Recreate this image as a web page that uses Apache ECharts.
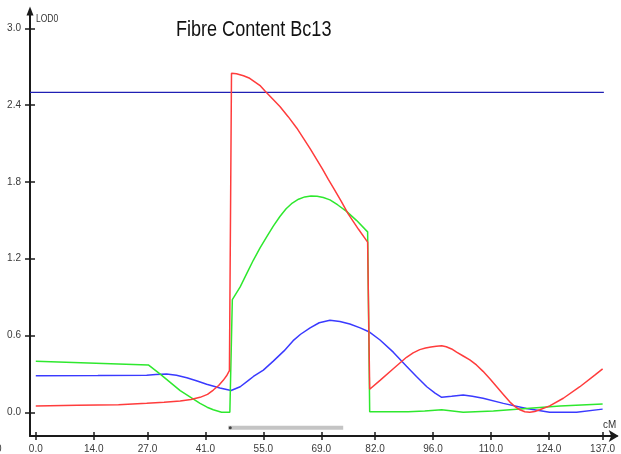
<!DOCTYPE html>
<html>
<head>
<meta charset="utf-8">
<script src="https://cdn.jsdelivr.net/npm/echarts@6/dist/echarts.min.js"></script>
<style>
  html, body { margin: 0; padding: 0; background: #ffffff; }
  #chart { width: 621px; height: 454px; }
</style>
</head>
<body>
<div id="chart"></div>
<script>
// LOD profiles along the linkage group, as [position in cM, LOD]
const redProfile = [
  [0, 0.05], [10, 0.055], [20, 0.06], [26.8, 0.07], [31, 0.078], [34.9, 0.088],
  [37.5, 0.1], [39.7, 0.117], [41.5, 0.14], [42.9, 0.174], [44.2, 0.21],
  [45.3, 0.25], [46.2, 0.29], [46.8, 0.325], [47.3, 2.65], [48.5, 2.645],
  [50.2, 2.63], [51.7, 2.61], [53, 2.58], [54.3, 2.55], [55.4, 2.51],
  [57.2, 2.45], [59, 2.39], [61, 2.31], [63.1, 2.22], [64.7, 2.14],
  [66.3, 2.06], [67.8, 1.98], [69.3, 1.9], [70.7, 1.82], [72, 1.75],
  [73.8, 1.65], [75.5, 1.55], [78, 1.43], [80.2, 1.33], [80.7, 0.18],
  [83.2, 0.25], [86.4, 0.34], [89.6, 0.43], [91.2, 0.465], [92.8, 0.49],
  [94.2, 0.502], [95.5, 0.51], [96.8, 0.517], [98.1, 0.52], [99.2, 0.512],
  [100.5, 0.495], [101.7, 0.47], [103.3, 0.44], [104.9, 0.41], [106.5, 0.37],
  [108.1, 0.32], [109.8, 0.26], [111.4, 0.2], [113, 0.14], [114.6, 0.08],
  [116, 0.04], [117, 0.02], [118.2, 0.005], [119.4, 0.0], [120.6, 0.006],
  [121.8, 0.02], [124.2, 0.05], [127.5, 0.11], [131.5, 0.2], [135.1, 0.29],
  [137, 0.34]
];
const greenProfile = [
  [0, 0.4], [27.2, 0.37], [30, 0.3], [34.9, 0.17], [39.7, 0.07], [41.4, 0.04],
  [42.9, 0.02], [44.9, 0.0], [46.9, 0.0], [47.5, 0.88], [49.4, 0.98],
  [51, 1.085], [52.6, 1.19], [54.2, 1.285], [55.8, 1.37], [57.4, 1.455],
  [59, 1.53], [60.5, 1.59], [62, 1.635], [63.5, 1.665], [65, 1.683],
  [66.5, 1.69], [68, 1.688], [69.5, 1.678], [71.1, 1.66], [73, 1.62],
  [75.1, 1.57], [77.5, 1.5], [80.2, 1.41], [80.7, 0.005], [85, 0.005],
  [90, 0.005], [94, 0.01], [98.1, 0.02], [103.3, 0.0], [110.6, 0.01],
  [118.6, 0.03], [126.7, 0.05], [137, 0.065]
];
const blueProfile = [
  [0, 0.286], [15, 0.288], [26.8, 0.29], [29, 0.295], [31.6, 0.3], [34, 0.29],
  [36.5, 0.27], [39, 0.245], [41.3, 0.22], [44.5, 0.19], [47.2, 0.17],
  [49.4, 0.2], [51.4, 0.25], [52.6, 0.28], [55, 0.33], [57.4, 0.4],
  [60, 0.48], [62.2, 0.56], [64, 0.61], [66.3, 0.66], [68.5, 0.7],
  [71.1, 0.72], [73.5, 0.71], [75.9, 0.69], [78.4, 0.66], [80.5, 0.63],
  [83.2, 0.565], [86.4, 0.47], [89.6, 0.36], [92, 0.28], [94.5, 0.2],
  [96.5, 0.15], [98.1, 0.117], [100.5, 0.125], [103.3, 0.135], [105.5, 0.125],
  [108.1, 0.11], [113, 0.07], [118.6, 0.03], [124.2, 0.0], [130.7, 0.0],
  [137, 0.025]
];
// significance threshold and support interval
const thresholdLine = [[-1.4, 2.5], [137.3, 2.5]];
const supportInterval = [[46.5, -0.12], [74.3, -0.12]];
const intervalMarker = [[47.0, -0.12]];

// axis ticks
const cmTicks = [0, 14, 27, 41, 55, 69, 82, 96, 110, 124, 137];
const lodTicks = [0, 0.6, 1.2, 1.8, 2.4, 3.0];

const FONT = "'Liberation Sans', Arial, sans-serif";
const AXIS_COLOR = '#1a1a1a';
const LABEL_COLOR = '#3a3a3a';

const xRange = { min: -1.4, max: 140.4 };
const yRange = { min: -0.185, max: 3.12 };

const chart = echarts.init(document.getElementById('chart'), null, { renderer: 'canvas' });

function lineSeries(data, color, width) {
  return {
    type: 'line',
    data: data,
    xAxisIndex: 0,
    yAxisIndex: 0,
    showSymbol: false,
    symbol: 'none',
    smooth: false,
    silent: true,
    animation: false,
    lineStyle: { color: color, width: width },
    z: 3
  };
}

// second axis that only draws the inner half of each tick
function tickAxis(range, ticks, len, position) {
  return {
    type: 'value', min: range.min, max: range.max, position: position,
    splitLine: { show: false },
    axisLine: { show: false, onZero: false },
    axisTick: {
      show: true, customValues: ticks, length: len, inside: true,
      lineStyle: { color: AXIS_COLOR, width: 1.5 }
    },
    axisLabel: { show: false }
  };
}

chart.setOption({
  animation: false,
  backgroundColor: '#ffffff',
  grid: { left: 30, right: 4.3, top: 13, bottom: 18, containLabel: false },
  xAxis: [
    {
      type: 'value', min: xRange.min, max: xRange.max, position: 'bottom',
      splitLine: { show: false },
      axisLine: {
        show: true, onZero: false,
        lineStyle: { color: AXIS_COLOR, width: 2 },
        symbol: ['none', 'arrow'], symbolSize: [9, 10], symbolOffset: [0, 2]
      },
      axisTick: {
        show: true, customValues: cmTicks, length: 4, inside: false,
        lineStyle: { color: AXIS_COLOR, width: 1.5 }
      },
      axisLabel: {
        show: true, customValues: cmTicks, margin: 8,
        color: LABEL_COLOR, fontFamily: FONT, fontSize: 10,
        formatter: v => v.toFixed(1)
      }
    },
    tickAxis(xRange, cmTicks, 4, 'bottom')
  ],
  yAxis: [
    {
      type: 'value', min: yRange.min, max: yRange.max, position: 'left',
      splitLine: { show: false },
      axisLine: {
        show: true, onZero: false,
        lineStyle: { color: AXIS_COLOR, width: 2 },
        symbol: ['none', 'triangle'], symbolSize: [7, 9], symbolOffset: [0, 2]
      },
      axisTick: {
        show: true, customValues: lodTicks, length: 5, inside: false,
        lineStyle: { color: AXIS_COLOR, width: 1.5 }
      },
      axisLabel: {
        show: true, customValues: lodTicks, margin: 9,
        color: LABEL_COLOR, fontFamily: FONT, fontSize: 10,
        formatter: v => v.toFixed(1)
      }
    },
    tickAxis(yRange, lodTicks, 5, 'left')
  ],
  series: [
    lineSeries(thresholdLine, '#2020b4', 1.3),
    lineSeries(blueProfile, '#3a3aff', 1.5),
    lineSeries(greenProfile, '#2ee82e', 1.5),
    lineSeries(redProfile, '#ff3c3c', 1.5),
    Object.assign(lineSeries(supportInterval, '#c4c4c4', 4), {
      lineStyle: { color: '#c4c4c4', width: 4, cap: 'butt' }
    }),
    {
      type: 'scatter', data: intervalMarker, symbol: 'circle', symbolSize: 3,
      itemStyle: { color: '#222222' }, silent: true, z: 4
    }
  ],
  graphic: [
    {
      type: 'text', x: 176, y: 19, scaleX: 0.82,
      style: { text: 'Fibre Content Bc13', font: "22px " + FONT, fill: '#111111' }
    },
    {
      type: 'text', x: 36, y: 14, scaleX: 0.85,
      style: { text: 'LOD0', font: "10px " + FONT, fill: '#333333' }
    },
    {
      type: 'text', x: 603, y: 419, scaleX: 0.9,
      style: { text: 'cM', font: "11px " + FONT, fill: '#333333' }
    },
    {
      type: 'text', x: -4, y: 444,
      style: { text: '0', font: "10px " + FONT, fill: LABEL_COLOR }
    }
  ]
});
</script>
</body>
</html>
